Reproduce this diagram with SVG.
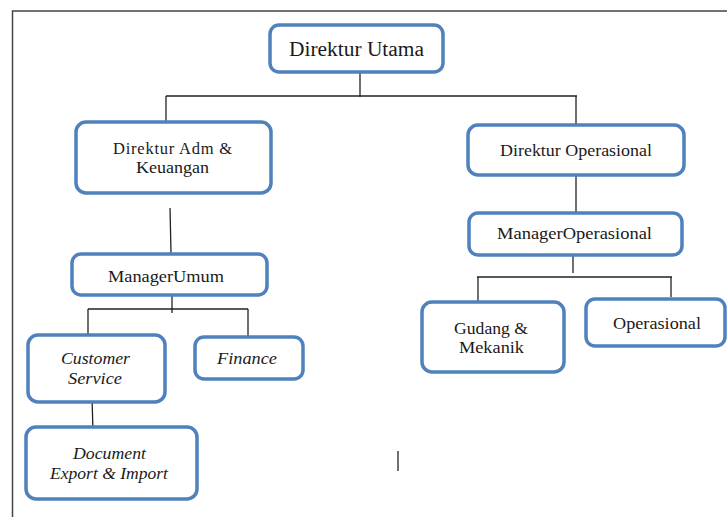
<svg xmlns="http://www.w3.org/2000/svg" width="727" height="517" viewBox="0 0 727 517">
<style>
.box{fill:#fff;stroke:#4f81bd;stroke-width:3.5}
.t{font-family:"Liberation Serif","Times New Roman",serif;font-size:16.5px;fill:#1a1a1a}
.i{font-style:italic}
.c line{stroke:#222;stroke-width:1.3}
.f{stroke:#444;stroke-width:1.5;fill:none}
</style>
<rect width="727" height="517" fill="#fff"/>
<path class="f" d="M12.5 517 V11 H727"/>
<g class="c" id="connectors">
<line x1="360" y1="72" x2="360" y2="97"/>
<line x1="166" y1="96" x2="577" y2="96"/>
<line x1="166" y1="96" x2="166" y2="123"/>
<line x1="576" y1="96" x2="576" y2="126"/>
<line x1="170" y1="208" x2="171" y2="253"/>
<line x1="172" y1="296" x2="172" y2="313"/>
<line x1="88" y1="309" x2="248" y2="309"/>
<line x1="88" y1="309" x2="88" y2="342"/>
<line x1="248" y1="309" x2="248" y2="343"/>
<line x1="92" y1="397" x2="93" y2="432"/>
<line x1="576" y1="175" x2="576" y2="216"/>
<line x1="573" y1="255" x2="573" y2="273"/>
<line x1="477" y1="277" x2="672" y2="277"/>
<line x1="478" y1="277" x2="478" y2="303"/>
<line x1="671" y1="277" x2="671" y2="297"/>
<line x1="398" y1="451" x2="398" y2="471"/>
</g>
<g id="direktur-utama">
<rect class="box" x="270" y="25" width="173" height="47" rx="9"/>
<text class="t" x="289" y="56" style="font-size:20px" textLength="135" lengthAdjust="spacingAndGlyphs">Direktur Utama</text>
</g>
<g id="direktur-adm">
<rect class="box" x="76" y="122" width="195" height="71" rx="10"/>
<text class="t" x="113" y="154" textLength="119" lengthAdjust="spacing">Direktur Adm &amp;</text>
<text class="t" x="136" y="173" textLength="73" lengthAdjust="spacingAndGlyphs">Keuangan</text>
</g>
<g id="manager-umum">
<rect class="box" x="72" y="254" width="195" height="41" rx="9"/>
<text class="t" x="108" y="282" textLength="116" lengthAdjust="spacingAndGlyphs">ManagerUmum</text>
</g>
<g id="customer-service">
<rect class="box" x="28" y="335" width="137" height="67" rx="10"/>
<text class="t i" x="61" y="364" textLength="69" lengthAdjust="spacingAndGlyphs">Customer</text>
<text class="t i" x="68" y="384" textLength="54" lengthAdjust="spacingAndGlyphs">Service</text>
</g>
<g id="finance">
<rect class="box" x="195" y="337" width="108" height="42" rx="9"/>
<text class="t i" x="217" y="364" textLength="60" lengthAdjust="spacingAndGlyphs">Finance</text>
</g>
<g id="document">
<rect class="box" x="26" y="427" width="171" height="72" rx="10"/>
<text class="t i" x="73" y="459" textLength="73" lengthAdjust="spacingAndGlyphs">Document</text>
<text class="t i" x="50" y="479" textLength="118" lengthAdjust="spacingAndGlyphs">Export &amp; Import</text>
</g>
<g id="direktur-operasional">
<rect class="box" x="468" y="125" width="216" height="50" rx="10"/>
<text class="t" x="500" y="156" textLength="152" lengthAdjust="spacingAndGlyphs">Direktur Operasional</text>
</g>
<g id="manager-operasional">
<rect class="box" x="469" y="213" width="213" height="42" rx="9"/>
<text class="t" x="497" y="239" textLength="155" lengthAdjust="spacingAndGlyphs">ManagerOperasional</text>
</g>
<g id="gudang">
<rect class="box" x="422" y="302" width="142" height="70" rx="10"/>
<text class="t" x="454" y="334" textLength="74" lengthAdjust="spacingAndGlyphs">Gudang &amp;</text>
<text class="t" x="459" y="353" textLength="65" lengthAdjust="spacingAndGlyphs">Mekanik</text>
</g>
<g id="operasional">
<rect class="box" x="586" y="299" width="139" height="47" rx="9"/>
<text class="t" x="613" y="329" textLength="88" lengthAdjust="spacingAndGlyphs">Operasional</text>
</g>
</svg>
